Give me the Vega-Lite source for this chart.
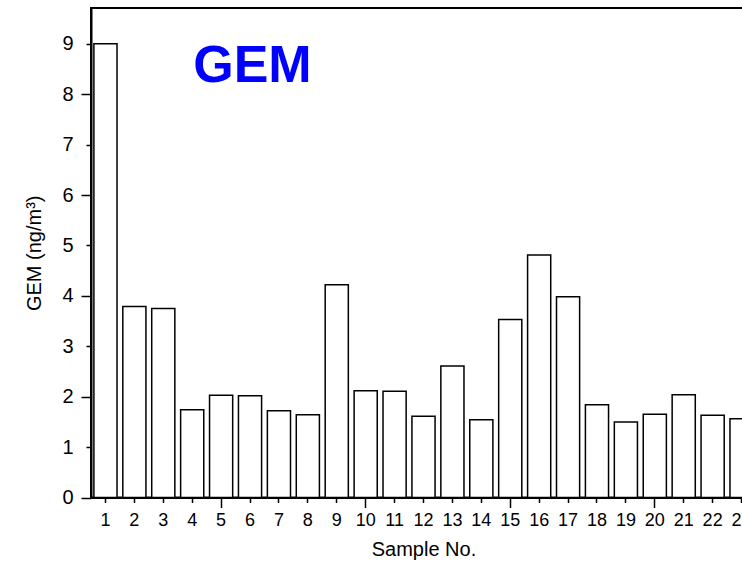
{
  "$schema": "https://vega.github.io/schema/vega-lite/v6.json",
  "autosize": "none",
  "padding": {"left": 91, "top": 8, "right": 0, "bottom": 74},
  "width": 665,
  "height": 489.5,
  "background": "white",
  "config": {
    "font": "Liberation Sans",
    "view": {"stroke": "black", "strokeWidth": 2},
    "axis": {"domainColor": "black", "domainWidth": 2, "tickColor": "black", "tickWidth": 1.5, "labelColor": "black", "titleColor": "black", "grid": false, "labelFont": "Liberation Sans", "titleFont": "Liberation Sans", "titleFontWeight": "normal"}
  },
  "data": {
    "values": [
      {"sample": "1", "gem": 9.0},
      {"sample": "2", "gem": 3.79},
      {"sample": "3", "gem": 3.75},
      {"sample": "4", "gem": 1.74},
      {"sample": "5", "gem": 2.03},
      {"sample": "6", "gem": 2.02},
      {"sample": "7", "gem": 1.72},
      {"sample": "8", "gem": 1.64},
      {"sample": "9", "gem": 4.22},
      {"sample": "10", "gem": 2.12},
      {"sample": "11", "gem": 2.11},
      {"sample": "12", "gem": 1.61},
      {"sample": "13", "gem": 2.61},
      {"sample": "14", "gem": 1.54},
      {"sample": "15", "gem": 3.53},
      {"sample": "16", "gem": 4.81},
      {"sample": "17", "gem": 3.98},
      {"sample": "18", "gem": 1.84},
      {"sample": "19", "gem": 1.5},
      {"sample": "20", "gem": 1.65},
      {"sample": "21", "gem": 2.04},
      {"sample": "22", "gem": 1.63},
      {"sample": "23", "gem": 1.56}
    ]
  },
  "layer": [
    {
      "mark": {"type": "bar", "fill": "white", "stroke": "black", "strokeWidth": 1.5},
      "encoding": {
        "x": {
          "field": "sample", "type": "ordinal",
          "scale": {"domain": ["1","2","3","4","5","6","7","8","9","10","11","12","13","14","15","16","17","18","19","20","21","22","23"], "paddingInner": 0.2, "paddingOuter": 0.1},
          "axis": {
            "title": "Sample No.", "titleFontSize": 20, "titlePadding": 10,
            "labelAngle": 0, "labelFontSize": 18,
            "labelPadding": {"condition": {"test": "datum.value % 5 === 0", "value": 4}, "value": 9},
            "tickSize": {"condition": {"test": "datum.value % 5 === 0", "value": 10}, "value": 5}
          }
        },
        "y": {
          "field": "gem", "type": "quantitative",
          "scale": {"domain": [0, 9.71], "nice": false},
          "axis": {
            "title": "GEM (ng/m³)", "titleFontSize": 20, "titlePadding": 17,
            "values": [0, 1, 2, 3, 4, 5, 6, 7, 8, 9],
            "labelFontSize": 20,
            "labelPadding": {"condition": {"test": "datum.value % 2 === 0", "value": 8}, "value": 13},
            "tickSize": {"condition": {"test": "datum.value % 2 === 0", "value": 10}, "value": 5}
          }
        }
      }
    },
    {
      "data": {"values": [{"label": "GEM", "sample": "4", "y": 8.24}]},
      "mark": {"type": "text", "align": "left", "baseline": "alphabetic", "dx": 1, "fontSize": 52, "fontWeight": "bold", "color": "#0000ff", "font": "Liberation Sans"},
      "encoding": {
        "x": {"field": "sample", "type": "ordinal"},
        "y": {"field": "y", "type": "quantitative"},
        "text": {"field": "label"}
      }
    }
  ]
}
